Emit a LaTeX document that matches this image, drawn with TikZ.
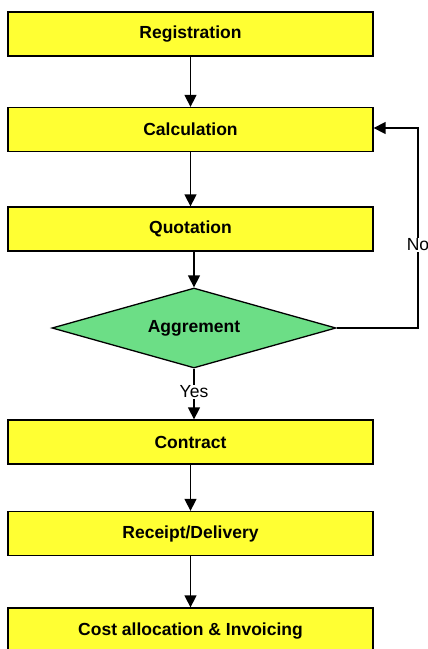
\documentclass[tikz,border=0pt]{standalone}
\usepackage{fontspec}
\setmainfont{Liberation Sans}
\usetikzlibrary{arrows.meta,shapes.geometric}
\definecolor{boxyellow}{RGB}{255,255,51}
\definecolor{decgreen}{RGB}{108,222,134}
\begin{document}
\begin{tikzpicture}[x=1pt,y=-1pt,
  stepbox/.style={draw=black,line width=1.3pt,fill=boxyellow,minimum width=365pt,minimum height=44pt,inner sep=0pt,
    font=\fontsize{17.5}{20}\selectfont\bfseries},
  decision/.style={diamond,draw=black,line width=1.3pt,fill=decgreen,minimum width=284pt,minimum height=80pt,aspect=3.55,inner sep=0pt,
    font=\fontsize{17.5}{20}\selectfont\bfseries},
  flow/.style={line width=1.4pt,-{Triangle[width=12pt,length=12pt]}},
  lbl/.style={fill=white,inner sep=1pt,font=\fontsize{17.5}{20}\selectfont}]
\clip (0,0) rectangle (428,649);
\fill[white] (0,0) rectangle (428,649);
\node[stepbox] (reg) at (190.5,34) {Registration};
\node[stepbox] (calc) at (190.5,129.5) {Calculation};
\node[stepbox] (quot) at (190.5,229) {Quotation};
\node[decision] (agr) at (194,328) {Aggrement};
\node[stepbox] (con) at (190.5,442) {Contract};
\node[stepbox] (rec) at (190.5,533.5) {Receipt/Delivery};
\node[stepbox,minimum height=46pt] (cost) at (190.5,631) {Cost allocation \& Invoicing};
\coordinate (noc) at (418,328);
\coordinate (not) at (418,128);
\draw[flow] (reg.south) -- (calc.north);
\draw[flow] (calc.south) -- (quot.north);
\draw[flow] (quot.south -| agr.north) -- (agr.north);
\draw[flow] (agr.south) -- node[lbl,pos=0.46] (yes) {Yes} (con.north -| agr.south);
\draw[flow] (con.south) -- (rec.north);
\draw[flow] (rec.south) -- (cost.north);
\draw[flow] (agr.east) -- (noc) -- node[lbl,pos=0.415] (no) {No} (not) -- (calc.east |- not);
\end{tikzpicture}
\end{document}
